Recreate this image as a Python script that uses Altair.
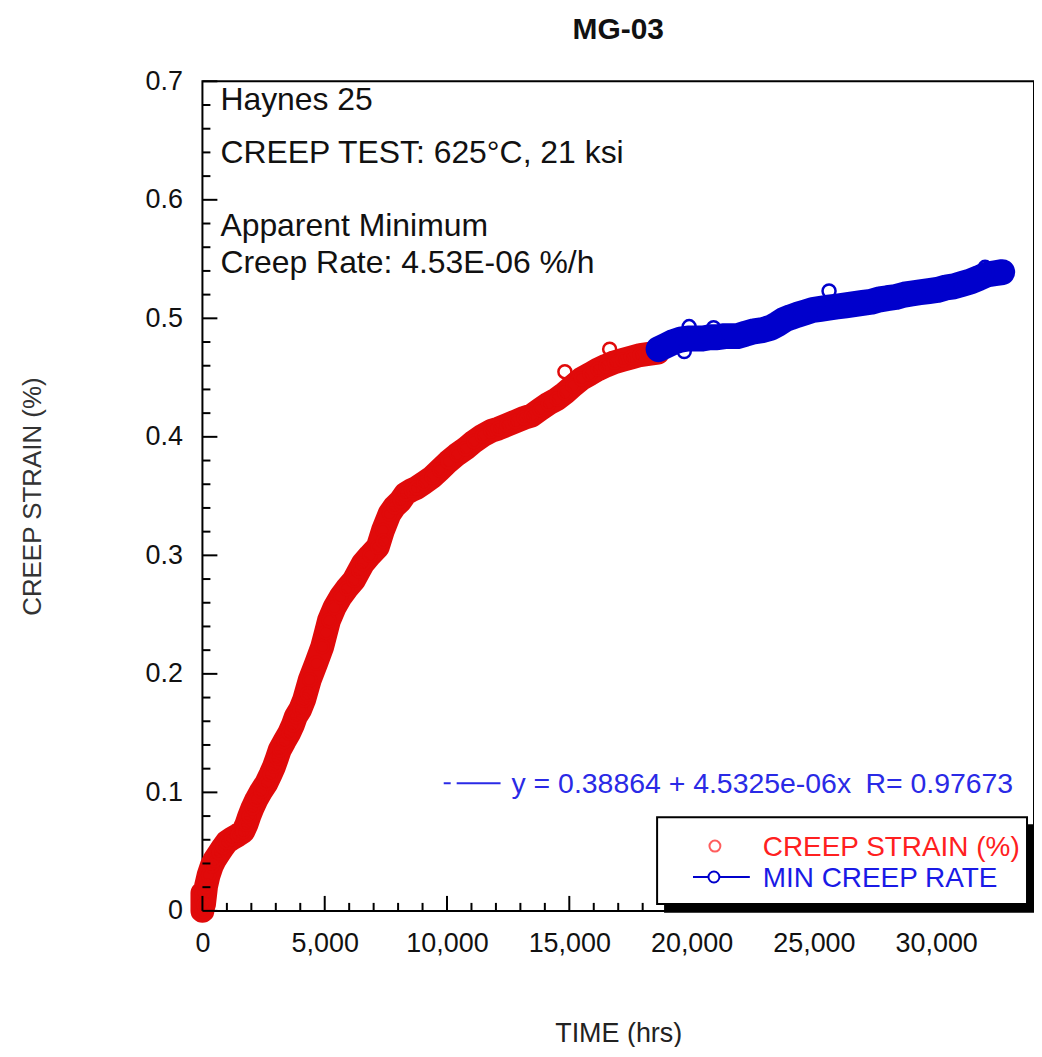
import altair as alt
import pandas as pd

# ---------------- data ----------------
red_t = [0, 0, 0, 60, 150, 250, 380, 500, 690, 850, 990, 1200, 1450, 1670, 1800,
         1915, 2050, 2210, 2400, 2620, 2780, 2930, 3050, 3165, 3350, 3545, 3700,
         3820, 4000, 4155, 4390, 4650, 4900, 5050, 5175, 5400, 5650, 5900, 6190,
         6400, 6560, 6850, 7170, 7380, 7650, 7850, 8100, 8300, 8550, 8760, 9050,
         9390, 9700, 10050, 10400, 10750, 11100, 11450, 11800, 12100, 12450,
         12800, 13150, 13460, 13800, 14150, 14500, 14820, 15150, 15500, 15850,
         16180, 16500, 16850, 17200, 17540, 17900, 18250, 18620]
red_y = [0.000, 0.008, 0.015, 0.005, 0.021, 0.030, 0.038, 0.043, 0.049, 0.054,
         0.058, 0.061, 0.064, 0.067, 0.073, 0.080, 0.087, 0.094, 0.101, 0.108,
         0.115, 0.122, 0.129, 0.136, 0.143, 0.150, 0.157, 0.164, 0.170, 0.178,
         0.195, 0.209, 0.223, 0.235, 0.245, 0.256, 0.265, 0.272, 0.279, 0.287,
         0.293, 0.300, 0.307, 0.321, 0.335, 0.341, 0.346, 0.352, 0.355, 0.357,
         0.361, 0.366, 0.372, 0.379, 0.385, 0.390, 0.396, 0.401, 0.405, 0.407,
         0.410, 0.413, 0.416, 0.418, 0.423, 0.428, 0.432, 0.437, 0.443, 0.449,
         0.453, 0.457, 0.460, 0.463, 0.465, 0.467, 0.469, 0.470, 0.471]

blue_t = [18650, 18950, 19250, 19550, 19850, 20150, 20450, 20750, 21050, 21350,
          21650, 21880, 22200, 22550, 22900, 23230, 23500, 23800, 24050, 24330,
          24650, 24950, 25270, 25600, 25950, 26300, 26650, 27000, 27350, 27700,
          28000, 28350, 28700, 29000, 29340, 29700, 30050, 30400, 30720, 31050,
          31400, 31750, 32070, 32400, 32700]
blue_y = [0.474, 0.477, 0.480, 0.482, 0.483, 0.483, 0.483, 0.484, 0.484, 0.485,
          0.485, 0.485, 0.487, 0.489, 0.490, 0.492, 0.495, 0.499, 0.501, 0.503,
          0.505, 0.507, 0.508, 0.509, 0.510, 0.511, 0.512, 0.513, 0.514, 0.516,
          0.517, 0.518, 0.520, 0.521, 0.522, 0.523, 0.524, 0.526, 0.527, 0.529,
          0.531, 0.534, 0.537, 0.538, 0.539]

# isolated rings visible off the band
red_out_t = [14820, 16650, 7400, 4300]
red_out_y = [0.455, 0.474, 0.312, 0.183]
blue_out_t = [25620, 19900, 20900, 32000, 19700]
blue_out_y = [0.523, 0.493, 0.492, 0.543, 0.472]

x_major = [0, 5000, 10000, 15000, 20000, 25000, 30000]
x_minor = [v for v in range(1000, 34000, 1000) if v % 5000 != 0]
y_major = [0.0, 0.1, 0.2, 0.3, 0.4, 0.5, 0.6, 0.7]
y_minor = [0.02, 0.04, 0.06, 0.08, 0.12, 0.14, 0.16, 0.18, 0.22, 0.24, 0.26,
           0.28, 0.32, 0.34, 0.36, 0.38, 0.42, 0.44, 0.46, 0.48, 0.52, 0.54,
           0.56, 0.58, 0.62, 0.64, 0.66, 0.68]

notes = ["Haynes 25", "CREEP TEST: 625°C, 21 ksi", "Apparent Minimum",
         "Creep Rate: 4.53E-06 %/h"]
fit_text = "y = 0.38864 + 4.5325e-06x"
r_text = "R= 0.97673"
legend_labels = ["CREEP STRAIN (%)", "MIN CREEP RATE"]

# ---------------- styling ----------------
FONT = "Liberation Sans"
RED = "#e00a0a"
BLUE = "#0000cc"
W, H = 834, 832

xscale = alt.Scale(domain=[0, 34000], nice=False, zero=False)
yscale = alt.Scale(domain=[0, 0.7], nice=False, zero=False)

red_df = pd.DataFrame({"t": red_t, "strain": red_y})
blue_df = pd.DataFrame({"t": blue_t, "strain": blue_y})
red_pts_df = pd.DataFrame({"t": red_t + red_out_t, "strain": red_y + red_out_y})
blue_pts_df = pd.DataFrame({"t": blue_t + blue_out_t, "strain": blue_y + blue_out_y})

xaxis = alt.Axis(values=x_major, labelExpr="format(datum.value, ',')",
                 ticks=False, tickSize=0, domain=False, labelFlush=False,
                 grid=False, labelFontSize=27, labelFont=FONT, labelColor="#111",
                 labelPadding=20, title="TIME (hrs)", titleFont=FONT,
                 titleFontSize=27, titleFontWeight="normal", titleColor="#222",
                 titlePadding=64)
yaxis = alt.Axis(values=y_major,
                 labelExpr="datum.value == 0 ? '0' : format(datum.value, '.1f')",
                 ticks=False, tickSize=0, domain=False, grid=False, labelFlush=False,
                 labelFontSize=27, labelFont=FONT, labelColor="#111",
                 labelPadding=20, title="CREEP STRAIN (%)", titleFont=FONT,
                 titleFontSize=26, titleFontWeight="normal", titleColor="#333",
                 titlePadding=100)

X = alt.X("t:Q", scale=xscale, axis=xaxis)
Y = alt.Y("strain:Q", scale=yscale, axis=yaxis)

red_line = alt.Chart(red_df).mark_line(
    color=RED, strokeWidth=24, strokeCap="round", strokeJoin="round"
).encode(x=X, y=Y)
red_pts = alt.Chart(red_pts_df).mark_point(
    shape="circle", filled=False, color=RED, size=170, strokeWidth=2.5, opacity=1
).encode(x=X, y=Y)

blue_line = alt.Chart(blue_df).mark_line(
    color=BLUE, strokeWidth=26, strokeCap="round", strokeJoin="round"
).encode(x=X, y=Y)
blue_pts = alt.Chart(blue_pts_df).mark_point(
    shape="circle", filled=False, color=BLUE, size=170, strokeWidth=2.5, opacity=1
).encode(x=X, y=Y)

# inward tick marks
def yticks(vals, length):
    return alt.Chart(pd.DataFrame({"strain": vals})).mark_rule(
        color="black", strokeWidth=2).encode(
        y=Y, x=alt.value(0), x2=alt.value(length))

def xticks(vals, length):
    return alt.Chart(pd.DataFrame({"t": vals})).mark_rule(
        color="black", strokeWidth=2).encode(
        x=X, y=alt.value(H), y2=alt.value(H - length))

one = pd.DataFrame({"k": [0]})

def txt(s, x, y, size, color, weight="normal"):
    return alt.Chart(one).mark_text(
        align="left", baseline="alphabetic", font=FONT, fontSize=size,
        color=color, fontWeight=weight).encode(
        x=alt.value(x), y=alt.value(y), text=alt.value(s))

def hline(x1, x2, y, color, width=2):
    return alt.Chart(one).mark_rule(color=color, strokeWidth=width).encode(
        x=alt.value(x1), x2=alt.value(x2), y=alt.value(y))

note_layers = [
    txt(notes[0], 18, 29, 32, "#111"),
    txt(notes[1], 18, 82, 32, "#111"),
    txt(notes[2], 18, 155, 32, "#111"),
    txt(notes[3], 18, 192, 32, "#111"),
]

EQ_BLUE = "#2a2ae6"
eq_layers = [
    hline(242, 249, 704, EQ_BLUE, 2),
    hline(255, 299, 704, EQ_BLUE, 2),
    txt(fit_text, 310, 714, 28.5, EQ_BLUE),
    txt(r_text, 665, 714, 28.5, EQ_BLUE),
]

shadow = alt.Chart(one).mark_rect(color="black").encode(
    x=alt.value(463), x2=alt.value(835), y=alt.value(745), y2=alt.value(834))
box = alt.Chart(one).mark_rect(fill="white", stroke="black", strokeWidth=2).encode(
    x=alt.value(456), x2=alt.value(827), y=alt.value(738), y2=alt.value(825))
leg_red_sym = alt.Chart(one).mark_point(
    shape="circle", filled=False, color="#ff1a1a", size=120, strokeWidth=2).encode(
    x=alt.value(514), y=alt.value(767))
leg_blue_line = hline(492, 549, 798, BLUE, 2)
leg_blue_sym = alt.Chart(one).mark_point(
    shape="circle", filled=True, fill="white", stroke=BLUE, size=120,
    strokeWidth=2, opacity=1).encode(x=alt.value(513), y=alt.value(798))
leg_red_txt = txt(legend_labels[0], 562, 777, 28, "#ff2020")
leg_blue_txt = txt(legend_labels[1], 562, 808, 28, "#1a1ae6")

chart = alt.layer(
    red_line, red_pts, blue_line, blue_pts,
    yticks(y_major, 15), yticks(y_minor, 8),
    xticks(x_major, 15), xticks(x_minor, 8),
    *note_layers, *eq_layers,
    shadow, box, leg_red_sym, leg_blue_line, leg_blue_sym, leg_red_txt, leg_blue_txt,
).properties(
    width=W, height=H,
    background="white",
    title=alt.TitleParams("MG-03", font=FONT, fontSize=30, fontWeight="bold",
                          color="#111", anchor="middle", offset=22),
    padding={"left": 195, "top": 72, "right": 0, "bottom": 135},
    autosize=alt.AutoSizeParams(type="none"),
).configure_view(
    stroke="black", strokeWidth=2
)

chart.save("out.html", embed_options={"renderer": "svg", "actions": False})
